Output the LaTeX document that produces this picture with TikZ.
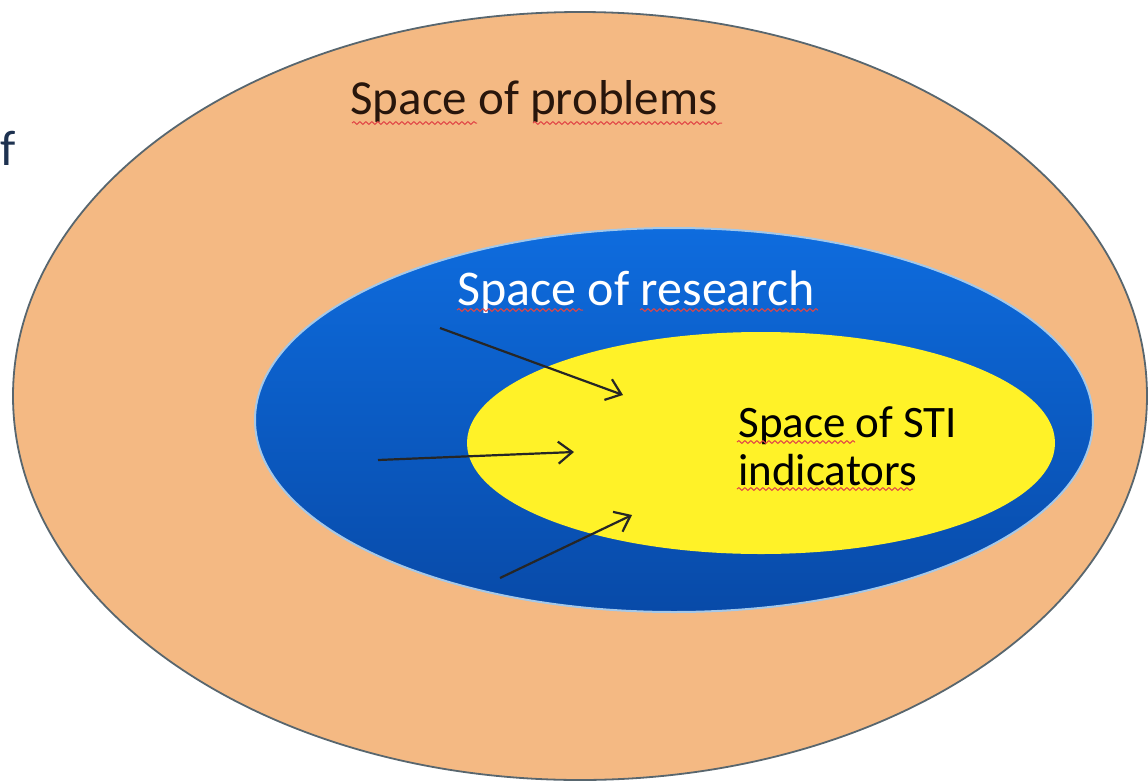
\documentclass[tikz,border=0pt]{standalone}
\usepackage{fontspec}
\setmainfont{Carlito}
\usetikzlibrary{shapes.geometric,arrows.meta,decorations.pathmorphing}
\definecolor{peach}{RGB}{244,185,131}
\definecolor{rimgrey}{RGB}{88,102,110}
\definecolor{bluetop}{RGB}{14,108,222}
\definecolor{bluebot}{RGB}{8,74,168}
\definecolor{blueedge}{RGB}{165,200,232}
\definecolor{stiyellow}{RGB}{255,242,40}
\definecolor{inkdark}{RGB}{40,22,12}
\definecolor{navy}{RGB}{30,50,80}
\definecolor{spellred}{RGB}{225,70,70}
\tikzset{feed/.style = {-{Straight Barb[length=7pt,width=11pt]}, line width=1.1pt, draw=black!85}}
\tikzset{zone/.style = {ellipse, inner sep=0pt},
  zonetext/.style = {inner sep=0pt, anchor=base west},
  spell/.style = {draw=spellred, line width=0.5pt, decorate, decoration={snake, amplitude=0.7pt, segment length=3pt}}}

\begin{document}
\begin{tikzpicture}[x=0.5pt,y=-0.5pt]
  \useasboundingbox (0,0) rectangle (1148,783);

  % nested spaces
  \node[zone, fill=peach, draw=rimgrey, line width=0.9pt, minimum width=567pt, minimum height=384pt] (problems) at (580,396) {};
  \node[zone, top color=bluetop, bottom color=bluebot, draw=blueedge, line width=1pt, minimum width=419pt, minimum height=192pt] (research) at (674,420) {};
  \node[zone, fill=stiyellow, minimum width=294pt, minimum height=111pt] (sti) at (761,443) {};

  % texts
  \node[zonetext, text=navy, font=\fontsize{25pt}{30pt}\selectfont] (cutword) at (0,165) {f};
  \node[zonetext, text=inkdark, font=\fontsize{24.5pt}{29pt}\selectfont] (problemstext) at (350,114) {Space of problems};
  \node[zonetext, text=white, font=\fontsize{25pt}{29pt}\selectfont] (researchtext) at (457,305) {Space of research};
  \node[zonetext, text=black, align=left, font=\fontsize{22.5pt}{24pt}\selectfont] (stitext) at (738,485) {Space of STI\\indicators};

  % spell-check marks
  \draw[spell] (352,123) -- (477,123);
  \draw[spell] (533,123) -- (722,123);
  \draw[spell] (457,310) -- (583,310);
  \draw[spell] (640,310) -- (818,310);
  \draw[spell] (737,442) -- (855,442);
  \draw[spell] (737,489) -- (913,489);

  % arrows
  \coordinate (a1) at (440,328);
  \coordinate (b1) at (623,395);
  \coordinate (a2) at (378,460);
  \coordinate (b2) at (574,452);
  \coordinate (a3) at (500,578);
  \coordinate (b3) at (632,515);
  \path (a1) edge[feed] (b1)
        (a2) edge[feed] (b2)
        (a3) edge[feed] (b3);
\end{tikzpicture}
\end{document}
